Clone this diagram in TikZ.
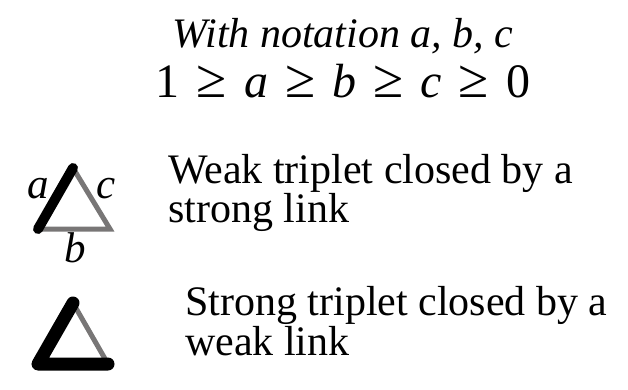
\documentclass[tikz,border=0pt]{standalone}
\usepackage{fontspec}
\setmainfont{Liberation Serif}
\newcommand{\gsp}{\hskip 17pt}
\newcommand{\bigge}{{\fontsize{55}{55}\selectfont ≥}}
\begin{document}
\begin{tikzpicture}[x=1pt,y=-1pt,
  txt/.style={inner sep=0pt,anchor=base west,font=\fontsize{42}{39}\selectfont,align=left},
  lbl/.style={inner sep=0pt,anchor=base,font=\fontsize{43}{43}\selectfont\itshape},
  strongl/.style={line width=10pt,line cap=round,line join=round,black},
  weakl/.style={line width=5pt,color=weakgray},
]
\definecolor{weakgray}{RGB}{120,118,118}
\useasboundingbox (0,0) rectangle (628,390);
\node[inner sep=0pt,anchor=base,font=\fontsize{42}{42}\selectfont\itshape] (title) at (343,48) {With notation a, b, c};
\node[inner sep=0pt,anchor=base,font=\fontsize{48}{48}\selectfont] (ineq) at (343,98) {1\gsp\bigge\gsp\textit{a}\gsp\bigge\gsp\textit{b}\gsp\bigge\gsp\textit{c}\gsp\bigge\gsp0};
% triangle 1
\coordinate (t1) at (73,168);
\coordinate (l1) at (38,229);
\coordinate (r1) at (110,229);
\draw[weakl] (t1) -- (r1) -- (l1);
\draw[strongl] (l1) -- (t1);
\node[lbl] (la) at (38,198) {a};
\node[lbl] (lc) at (106,198) {c};
\node[lbl] (lb) at (75,262) {b};
\node[txt] (d1) at (168,222) {Weak triplet closed by a\\strong link};
% triangle 2
\coordinate (t2) at (73,303);
\coordinate (l2) at (38,364);
\coordinate (r2) at (108,364);
\draw[weakl] (t2) -- (r2);
\draw[strongl,line width=13pt] (r2) -- (l2) -- (t2);
\node[txt,font=\fontsize{42}{40}\selectfont] (d2) at (185,355) {Strong triplet closed by a\\weak link};
\end{tikzpicture}
\end{document}
